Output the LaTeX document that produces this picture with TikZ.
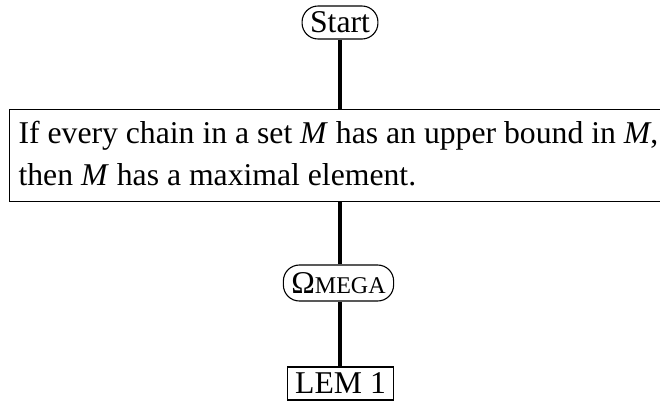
\documentclass[tikz,border=0pt]{standalone}
\usepackage{fontspec}
\setmainfont{Liberation Serif}
\begin{document}
\begin{tikzpicture}[x=1pt,y=-1pt,
  font=\fontsize{31.7}{42}\selectfont,
  conn/.style={line width=3.2pt},
  pill/.style={draw, line width=1.1pt, rounded corners=16pt,
    inner xsep=8pt, inner ysep=0pt},
  plainbox/.style={draw, line width=1.1pt, inner xsep=8pt, inner ysep=0pt,
    minimum height=33pt},
  claimbox/.style={draw, line width=1.1pt, anchor=north west,
    text width=690pt, align=left, inner xsep=9pt, inner ysep=0pt,
    text height=34pt, text depth=58pt}]
\useasboundingbox (0,0) rectangle (660,405);
\clip (0,0) rectangle (660,405);

\node[pill, minimum height=33pt] (start) at (340,22.5) {Start};
% use the font's own interword space instead of the ragged-right default
\node[claimbox] (claim) at (9,109)
  {\spaceskip=0pt \xspaceskip=0pt
   If every chain in a set \textit{M} has an upper bound in \textit{M},\\
   then \textit{M} has a maximal element.};
\node[pill, minimum height=36pt] (omega) at (338.5,283)
  {Ω{\fontsize{24}{24}\selectfont MEGA}};
\node[plainbox] (lem) at (340.5,383.5) {LEM 1};

% vertical connectors, all on one axis
\draw[conn] (start.south) -- (start.south |- claim.north);
\draw[conn] (start.south |- claim.south) -- (start.south |- omega.north);
\draw[conn] (start.south |- omega.south) -- (start.south |- lem.north);
\end{tikzpicture}
\end{document}
